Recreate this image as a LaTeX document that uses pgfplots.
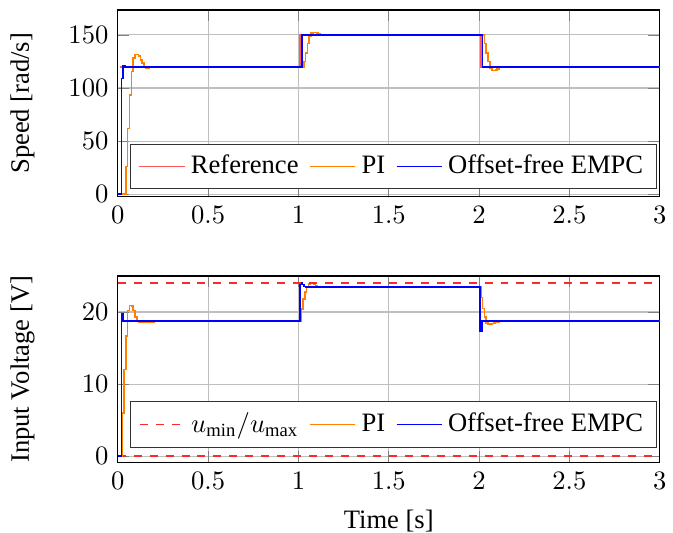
\documentclass[border=0pt]{standalone}
\usepackage{fontspec}
\setmainfont{Liberation Serif}
\usepackage{pgfplots}
\pgfplotsset{compat=1.18}

\definecolor{refred}{RGB}{255,90,90}
\definecolor{dashred}{RGB}{255,40,40}
\definecolor{piorange}{RGB}{255,128,0}
\definecolor{mpcblue}{RGB}{0,0,255}

\pgfplotsset{
  ctrl/.style={
    scale only axis,
    width=203.9pt, height=70.2pt,
    xmin=0, xmax=3,
    xtick={0,0.5,1,1.5,2,2.5,3},
    grid=major,
    legend columns=3,
    legend style={anchor=south east, draw=black!80,
      /tikz/every even column/.append style={column sep=2pt}},
    ylabel style={at={(axis description cs:-0.136,0.5)}, anchor=south},
  },
  refline/.style={draw=refred, line width=0.6pt, const plot},
  piline/.style={draw=piorange, line width=0.6pt, const plot},
  mpcline/.style={draw=mpcblue, line width=0.6pt, const plot},
  limline/.style={draw=dashred, line width=0.6pt, dashed},
}

\begin{document}
\begin{tikzpicture}
\useasboundingbox (-44.3pt,-126.55pt) rectangle (208.9pt,73.96pt);
% speed
\begin{axis}[ctrl, ymin=-2.3, ymax=173.5, ytick={0,50,100,150},
  ylabel={Speed [rad/s]},
  legend style={at={(0.995,0.041)}}]
\addplot[refline] coordinates {
  (0.01,120) (1.01,150) (2.01,120) (3,120)
};
\addplot[piline] coordinates {
  (0,0) (0.045,26) (0.055,62) (0.065,93.5) (0.075,115.4) (0.085,128)
  (0.095,131.5) (0.115,130) (0.125,126.5) (0.135,123.3) (0.145,120.2)
  (0.155,119) (0.175,119.5) (0.195,120)
  (1.03,125) (1.04,133) (1.05,142) (1.06,148.4) (1.07,151.6) (1.08,152.3)
  (1.10,152) (1.11,151) (1.12,150.5) (1.13,150)
  (2.03,142) (2.04,133) (2.05,125) (2.06,118.6) (2.07,116.5) (2.09,117)
  (2.10,118) (2.11,119.3) (2.13,120) (3,120)
};
\addplot[mpcline] coordinates {
  (0,0) (0.02,109) (0.03,121) (0.04,120) (1.02,150) (2.02,120) (3,120)
};
\legend{Reference, PI, Offset-free EMPC}
\end{axis}

% input voltage
\begin{axis}[ctrl, at={(0,-100.07pt)}, ymin=-0.9, ymax=25, ytick={0,10,20},
  ylabel={Input Voltage [V]}, xlabel={Time [s]},
  xlabel style={at={(axis description cs:0.5,0)}, anchor=base, yshift=-24.9pt},
  legend style={at={(0.995,0.08)}}]
\addplot[limline] coordinates {(0,0) (3,0)};
\addplot[piline] coordinates {
  (0,0) (0.025,6) (0.035,12) (0.045,16.7) (0.055,20.2) (0.065,20.9)
  (0.075,20.8) (0.085,20.2) (0.095,19.3) (0.105,18.8) (0.115,18.55)
  (0.155,18.65) (0.2,18.75)
  (1.015,20.4) (1.025,21.8) (1.035,22.8) (1.045,23.4) (1.055,23.9)
  (1.065,24.0) (1.085,23.9) (1.095,23.7) (1.105,23.55) (1.125,23.45)
  (2.01,22.0) (2.02,20.5) (2.03,19.3) (2.04,18.5) (2.05,18.3) (2.07,18.4)
  (2.08,18.5) (2.09,18.6) (2.11,18.7) (2.15,18.75) (3,18.75)
};
\addplot[mpcline] coordinates {
  (0,0) (0.02,19.7) (0.03,18.75) (1.01,24) (1.02,23.8) (1.03,23.55)
  (1.04,23.45) (2.005,17.4) (2.015,18.75) (3,18.75)
};
\addplot[limline, forget plot] coordinates {(0,24) (3,24)};
\legend{$u_{\min}/u_{\max}$, PI, Offset-free EMPC}
\end{axis}
\end{tikzpicture}
\end{document}
